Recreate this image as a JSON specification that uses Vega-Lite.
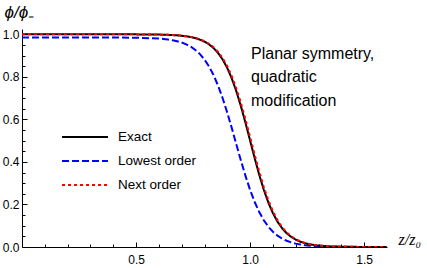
{
  "$schema": "https://vega.github.io/schema/vega-lite/v6.json",
  "width": 365,
  "height": 218,
  "autosize": {"type": "none"},
  "padding": {"left": 22, "top": 29, "right": 40, "bottom": 21},
  "background": "white",
  "config": {
    "view": {"stroke": null},
    "font": "Liberation Sans",
    "axis": {"domainColor": "black", "tickColor": "black", "labelColor": "black", "labelFont": "Liberation Sans", "labelFontSize": 12, "domainWidth": 1, "tickWidth": 1, "grid": false, "titleColor": "black"}
  },
  "data": {"values": [
    {"z":0,"v":0.985,"s":"Lowest order"},{"z":0.1,"v":0.985,"s":"Lowest order"},{"z":0.2,"v":0.985,"s":"Lowest order"},{"z":0.3,"v":0.98496,"s":"Lowest order"},{"z":0.4,"v":0.98478,"s":"Lowest order"},{"z":0.5,"v":0.98393,"s":"Lowest order"},{"z":0.6,"v":0.97994,"s":"Lowest order"},{"z":0.62,"v":0.9781,"s":"Lowest order"},{"z":0.64,"v":0.97559,"s":"Lowest order"},{"z":0.66,"v":0.97218,"s":"Lowest order"},{"z":0.68,"v":0.96756,"s":"Lowest order"},{"z":0.7,"v":0.96131,"s":"Lowest order"},{"z":0.72,"v":0.95291,"s":"Lowest order"},{"z":0.74,"v":0.94165,"s":"Lowest order"},{"z":0.76,"v":0.92669,"s":"Lowest order"},{"z":0.78,"v":0.90698,"s":"Lowest order"},{"z":0.8,"v":0.88141,"s":"Lowest order"},{"z":0.82,"v":0.84862,"s":"Lowest order"},{"z":0.84,"v":0.80764,"s":"Lowest order"},{"z":0.86,"v":0.75753,"s":"Lowest order"},{"z":0.88,"v":0.69844,"s":"Lowest order"},{"z":0.9,"v":0.63101,"s":"Lowest order"},{"z":0.92,"v":0.55762,"s":"Lowest order"},{"z":0.94,"v":0.48096,"s":"Lowest order"},{"z":0.96,"v":0.40501,"s":"Lowest order"},{"z":0.98,"v":0.33299,"s":"Lowest order"},{"z":1.0,"v":0.26796,"s":"Lowest order"},{"z":1.02,"v":0.21146,"s":"Lowest order"},{"z":1.04,"v":0.16419,"s":"Lowest order"},{"z":1.06,"v":0.12573,"s":"Lowest order"},{"z":1.08,"v":0.09526,"s":"Lowest order"},{"z":1.1,"v":0.07153,"s":"Lowest order"},{"z":1.12,"v":0.05339,"s":"Lowest order"},{"z":1.14,"v":0.03964,"s":"Lowest order"},{"z":1.16,"v":0.02932,"s":"Lowest order"},{"z":1.18,"v":0.02162,"s":"Lowest order"},{"z":1.2,"v":0.01591,"s":"Lowest order"},{"z":1.22,"v":0.01169,"s":"Lowest order"},{"z":1.24,"v":0.00858,"s":"Lowest order"},{"z":1.26,"v":0.00629,"s":"Lowest order"},{"z":1.28,"v":0.00461,"s":"Lowest order"},{"z":1.3,"v":0.00338,"s":"Lowest order"},{"z":1.35,"v":0.00155,"s":"Lowest order"},{"z":1.4,"v":0.00071,"s":"Lowest order"},{"z":1.5,"v":0.00015,"s":"Lowest order"},{"z":1.6,"v":0.00003,"s":"Lowest order"},
    {"z":0,"v":1.0,"s":"Exact"},{"z":0.1,"v":1.0,"s":"Exact"},{"z":0.2,"v":1.0,"s":"Exact"},{"z":0.3,"v":0.99999,"s":"Exact"},{"z":0.4,"v":0.99995,"s":"Exact"},{"z":0.5,"v":0.99976,"s":"Exact"},{"z":0.6,"v":0.99873,"s":"Exact"},{"z":0.62,"v":0.99822,"s":"Exact"},{"z":0.64,"v":0.99753,"s":"Exact"},{"z":0.66,"v":0.99655,"s":"Exact"},{"z":0.68,"v":0.99519,"s":"Exact"},{"z":0.7,"v":0.99331,"s":"Exact"},{"z":0.72,"v":0.99069,"s":"Exact"},{"z":0.74,"v":0.98705,"s":"Exact"},{"z":0.76,"v":0.98201,"s":"Exact"},{"z":0.78,"v":0.97508,"s":"Exact"},{"z":0.8,"v":0.96556,"s":"Exact"},{"z":0.82,"v":0.95257,"s":"Exact"},{"z":0.84,"v":0.93504,"s":"Exact"},{"z":0.86,"v":0.9116,"s":"Exact"},{"z":0.88,"v":0.8808,"s":"Exact"},{"z":0.9,"v":0.84113,"s":"Exact"},{"z":0.92,"v":0.79139,"s":"Exact"},{"z":0.94,"v":0.73106,"s":"Exact"},{"z":0.96,"v":0.66077,"s":"Exact"},{"z":0.98,"v":0.58257,"s":"Exact"},{"z":1.0,"v":0.5,"s":"Exact"},{"z":1.02,"v":0.41743,"s":"Exact"},{"z":1.04,"v":0.33923,"s":"Exact"},{"z":1.06,"v":0.26894,"s":"Exact"},{"z":1.08,"v":0.20861,"s":"Exact"},{"z":1.1,"v":0.15887,"s":"Exact"},{"z":1.12,"v":0.1192,"s":"Exact"},{"z":1.14,"v":0.0884,"s":"Exact"},{"z":1.16,"v":0.06496,"s":"Exact"},{"z":1.18,"v":0.04743,"s":"Exact"},{"z":1.2,"v":0.03444,"s":"Exact"},{"z":1.22,"v":0.02492,"s":"Exact"},{"z":1.24,"v":0.01799,"s":"Exact"},{"z":1.26,"v":0.01295,"s":"Exact"},{"z":1.28,"v":0.00931,"s":"Exact"},{"z":1.3,"v":0.00669,"s":"Exact"},{"z":1.35,"v":0.00292,"s":"Exact"},{"z":1.4,"v":0.00127,"s":"Exact"},{"z":1.5,"v":0.00024,"s":"Exact"},{"z":1.6,"v":0.00005,"s":"Exact"},
    {"z":0,"v":1.0,"s":"Next order"},{"z":0.1,"v":1.0,"s":"Next order"},{"z":0.2,"v":1.0,"s":"Next order"},{"z":0.3,"v":0.99999,"s":"Next order"},{"z":0.4,"v":0.99995,"s":"Next order"},{"z":0.5,"v":0.99978,"s":"Next order"},{"z":0.6,"v":0.99881,"s":"Next order"},{"z":0.62,"v":0.99834,"s":"Next order"},{"z":0.64,"v":0.99769,"s":"Next order"},{"z":0.66,"v":0.99678,"s":"Next order"},{"z":0.68,"v":0.99551,"s":"Next order"},{"z":0.7,"v":0.99375,"s":"Next order"},{"z":0.72,"v":0.99131,"s":"Next order"},{"z":0.74,"v":0.9879,"s":"Next order"},{"z":0.76,"v":0.98319,"s":"Next order"},{"z":0.78,"v":0.9767,"s":"Next order"},{"z":0.8,"v":0.96778,"s":"Next order"},{"z":0.82,"v":0.95558,"s":"Next order"},{"z":0.84,"v":0.93909,"s":"Next order"},{"z":0.86,"v":0.91698,"s":"Next order"},{"z":0.88,"v":0.8878,"s":"Next order"},{"z":0.9,"v":0.85004,"s":"Next order"},{"z":0.92,"v":0.8024,"s":"Next order"},{"z":0.94,"v":0.74417,"s":"Next order"},{"z":0.96,"v":0.67573,"s":"Next order"},{"z":0.98,"v":0.59879,"s":"Next order"},{"z":1.0,"v":0.51668,"s":"Next order"},{"z":1.02,"v":0.43365,"s":"Next order"},{"z":1.04,"v":0.35419,"s":"Next order"},{"z":1.06,"v":0.28205,"s":"Next order"},{"z":1.08,"v":0.21962,"s":"Next order"},{"z":1.1,"v":0.16778,"s":"Next order"},{"z":1.12,"v":0.1262,"s":"Next order"},{"z":1.14,"v":0.09378,"s":"Next order"},{"z":1.16,"v":0.06901,"s":"Next order"},{"z":1.18,"v":0.05044,"s":"Next order"},{"z":1.2,"v":0.03666,"s":"Next order"},{"z":1.22,"v":0.02654,"s":"Next order"},{"z":1.24,"v":0.01917,"s":"Next order"},{"z":1.26,"v":0.0138,"s":"Next order"},{"z":1.28,"v":0.00992,"s":"Next order"},{"z":1.3,"v":0.00713,"s":"Next order"},{"z":1.35,"v":0.00311,"s":"Next order"},{"z":1.4,"v":0.00136,"s":"Next order"},{"z":1.5,"v":0.00026,"s":"Next order"},{"z":1.6,"v":0.00005,"s":"Next order"}
  ]},
  "layer": [
    {
      "mark": {"type": "point", "opacity": 0},
      "encoding": {
        "x": {"field": "z", "type": "quantitative", "scale": {"domain": [0, 1.6], "nice": false, "zero": false},
              "axis": {"orient": "bottom", "values": [0.1,0.2,0.3,0.4,0.6,0.7,0.8,0.9,1.1,1.2,1.3,1.4], "tickSize": -3, "labels": false, "domain": false, "title": null}},
        "y": {"field": "v", "type": "quantitative", "scale": {"domain": [0, 1.025], "nice": false, "zero": false},
              "axis": {"orient": "left", "values": [0.05,0.1,0.15,0.25,0.3,0.35,0.45,0.5,0.55,0.65,0.7,0.75,0.85,0.9,0.95], "tickSize": -3, "labels": false, "domain": false, "title": null}}
      }
    },
    {
      "mark": {"type": "line", "strokeWidth": 2, "clip": true},
      "encoding": {
        "x": {"field": "z", "type": "quantitative",
              "axis": {"orient": "bottom", "values": [0.5, 1.0, 1.5], "format": ".1f", "tickSize": -5, "labelPadding": 12,
                       "title": "z/z₀", "titleFont": "Liberation Serif", "titleFontStyle": "italic", "titleFontWeight": "normal", "titleFontSize": 16,
                       "titleX": 376, "titleY": -3, "titleAlign": "left", "titleBaseline": "alphabetic", "titleAngle": 0}},
        "y": {"field": "v", "type": "quantitative",
              "axis": {"orient": "left", "values": [0, 0.2, 0.4, 0.6, 0.8, 1.0], "format": ".1f", "tickSize": -5, "labelPadding": 8,
                       "title": "ϕ/ϕ₋", "titleFont": "Liberation Sans", "titleFontStyle": "italic", "titleFontWeight": "normal", "titleFontSize": 17,
                       "titleX": -18, "titleY": -12, "titleAlign": "left", "titleBaseline": "alphabetic", "titleAngle": 0}},
        "color": {"field": "s", "type": "nominal",
                  "scale": {"domain": ["Exact", "Lowest order", "Next order"], "range": ["#000000", "#0000ff", "#ff0000"]},
                  "legend": {"orient": "none", "legendX": 56, "legendY": 101, "title": null, "symbolType": "M-4,0H4", "symbolSize": 132, "symbolStrokeWidth": 2,
                             "labelFontSize": 13.5, "labelFont": "Liberation Sans", "labelColor": "black", "rowPadding": 10, "labelOffset": 26, "padding": 0}},
        "strokeDash": {"field": "s", "type": "nominal",
                       "scale": {"domain": ["Exact", "Lowest order", "Next order"], "range": [[1, 0], [7, 3], [3, 3]]},
                       "legend": {"orient": "none", "legendX": 56, "legendY": 101, "title": null, "symbolType": "M-4,0H4", "symbolSize": 132, "symbolStrokeWidth": 2,
                             "labelFontSize": 13.5, "labelFont": "Liberation Sans", "labelColor": "black", "rowPadding": 10, "labelOffset": 26, "padding": 0}}
      }
    },
    {
      "data": {"values": [{"label": "annotation"}]},
      "mark": {"type": "text", "text": ["Planar symmetry,", "\u2009quadratic", "\u2009modification"], "align": "left", "baseline": "alphabetic", "fontSize": 16, "lineHeight": 23.7, "font": "Liberation Sans", "color": "black"},
      "encoding": {
        "x": {"datum": 1.004, "type": "quantitative", "axis": null},
        "y": {"datum": 0.886, "type": "quantitative", "axis": null}
      }
    }
  ],
  "resolve": {"axis": {"x": "independent", "y": "independent"}}
}
